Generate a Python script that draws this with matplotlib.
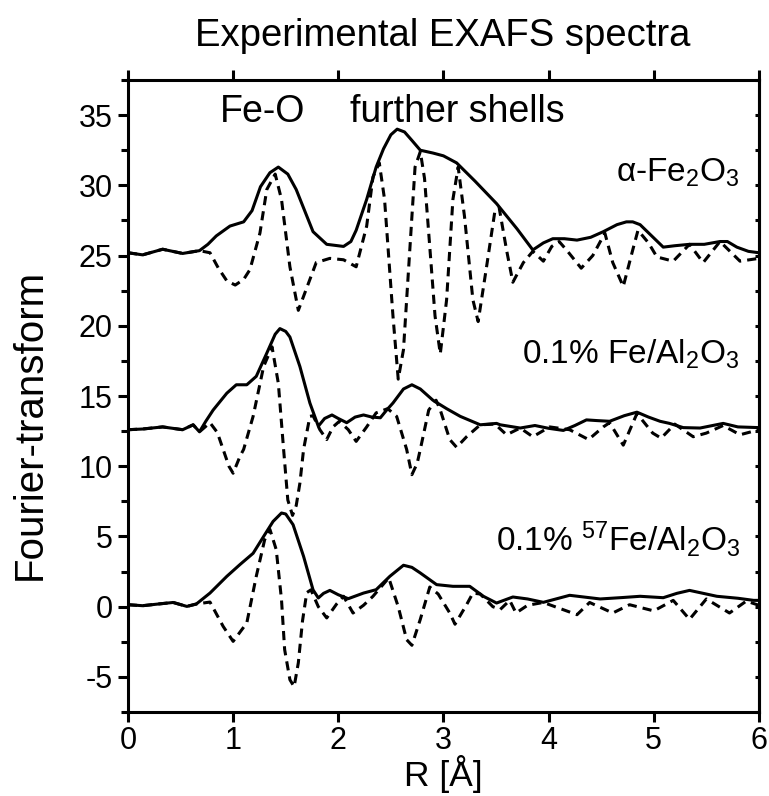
import numpy as np
import matplotlib
matplotlib.use('Agg')
import matplotlib.pyplot as plt
from matplotlib.ticker import MultipleLocator

plt.rcParams['font.family'] = ['Liberation Sans', 'DejaVu Sans']
plt.rcParams['mathtext.fontset'] = 'custom'
plt.rcParams['mathtext.rm'] = 'Liberation Sans'
plt.rcParams['mathtext.it'] = 'Liberation Sans'
plt.rcParams['axes.unicode_minus'] = False

# values (offsets already included: 25, 12.5, 0)

# alpha-Fe2O3 : |FT| and Im(FT)
r_hem_ft = [0.00, 0.14, 0.33, 0.52, 0.68, 0.76, 0.84, 0.97, 1.10, 1.18, 1.26, 1.35,
            1.43, 1.52, 1.60, 1.68, 1.76, 1.89, 2.05, 2.12, 2.17, 2.27, 2.36, 2.43,
            2.50, 2.56, 2.63, 2.70, 2.78, 2.90, 3.00, 3.125, 3.30, 3.505, 3.70, 3.85,
            3.95, 4.04, 4.15, 4.27, 4.40, 4.52, 4.65, 4.74, 4.80, 4.87, 4.98, 5.09,
            5.20, 5.34, 5.48, 5.63, 5.70, 5.79, 5.90, 6.00]
hem_ft = [25.2, 25.05, 25.45, 25.15, 25.35, 25.8, 26.4, 27.1, 27.4, 28.2, 29.9, 30.9,
          31.3, 30.8, 29.7, 28.2, 26.7, 25.8, 25.65, 26.0, 26.8, 29.0, 31.3, 32.6,
          33.6, 34.0, 33.8, 33.2, 32.5, 32.3, 32.1, 31.6, 30.3, 28.7, 26.9, 25.4,
          25.9, 26.2, 26.2, 26.1, 26.3, 26.7, 27.2, 27.4, 27.4, 27.2, 26.4, 25.6,
          25.7, 25.8, 25.8, 26.0, 26.0, 25.6, 25.3, 25.2]
r_hem_im = [0.00, 0.14, 0.33, 0.52, 0.68, 0.78, 0.86, 0.94, 1.02, 1.10, 1.16, 1.255,
            1.32, 1.40, 1.46, 1.54, 1.62, 1.68, 1.79, 1.92, 2.05, 2.17, 2.27, 2.33,
            2.39, 2.44, 2.52, 2.57, 2.62, 2.68, 2.73, 2.78, 2.82, 2.86, 2.92, 2.97,
            3.03, 3.09, 3.14, 3.20, 3.28, 3.33, 3.41, 3.49, 3.53, 3.60, 3.66, 3.76,
            3.85, 3.95, 4.03, 4.10, 4.17, 4.31, 4.42, 4.535, 4.61, 4.71, 4.80, 4.85,
            4.95, 5.03, 5.185, 5.34, 5.47, 5.63, 5.82, 6.00]
hem_im = [25.2, 25.05, 25.45, 25.15, 25.35, 25.2, 24.1, 23.2, 22.9, 23.3, 24.0, 26.6,
          29.7, 30.8, 29.0, 24.2, 21.1, 22.3, 24.5, 24.8, 24.7, 24.2, 27.1, 30.6,
          31.6, 29.0, 20.7, 16.2, 18.3, 25.4, 31.3, 32.4, 30.5, 26.6, 20.7, 18.0,
          21.85, 29.0, 31.3, 27.8, 21.85, 20.3, 24.2, 28.2, 28.4, 25.4, 23.1, 24.5,
          25.3, 24.6, 25.65, 26.0, 25.4, 24.1, 25.0, 26.6, 24.5, 22.8, 25.4, 26.8,
          25.9, 24.9, 24.6, 25.8, 24.5, 26.0, 24.6, 24.8]

# 0.1% Fe/Al2O3
r_fe_ft = [0.00, 0.14, 0.33, 0.52, 0.62, 0.68, 0.74, 0.81, 0.94, 1.03, 1.13, 1.22,
           1.32, 1.40, 1.445, 1.50, 1.54, 1.635, 1.73, 1.81, 1.87, 1.94, 2.00, 2.08,
           2.16, 2.24, 2.32, 2.40, 2.46, 2.52, 2.62, 2.70, 2.78, 2.90, 3.03, 3.16,
           3.35, 3.505, 3.54, 3.73, 3.87, 4.00, 4.14, 4.25, 4.36, 4.46, 4.58, 4.72,
           4.84, 4.95, 5.06, 5.15, 5.28, 5.44, 5.56, 5.66, 5.80, 6.00]
fe_ft = [12.6, 12.65, 12.8, 12.6, 12.95, 12.45, 13.2, 14.0, 15.2, 15.8, 15.8, 16.4,
         18.05, 19.4, 19.8, 19.6, 19.2, 17.1, 14.5, 12.85, 13.4, 13.65, 13.4, 13.1,
         13.5, 13.65, 13.5, 13.45, 14.0, 14.5, 15.5, 15.8, 15.5, 14.7, 14.1, 13.55,
         12.95, 13.05, 12.95, 12.72, 12.9, 12.7, 12.55, 12.9, 13.3, 13.25, 13.2, 13.6,
         13.85, 13.5, 13.2, 13.05, 12.75, 12.72, 12.9, 13.05, 12.8, 12.75]
r_fe_im = [0.00, 0.14, 0.33, 0.52, 0.62, 0.68, 0.78, 0.85, 0.905, 0.96, 1.00, 1.065,
           1.10, 1.19, 1.29, 1.37, 1.43, 1.48, 1.52, 1.565, 1.60, 1.635, 1.67, 1.73,
           1.76, 1.825, 1.89, 1.95, 2.01, 2.095, 2.17, 2.27, 2.36, 2.47, 2.555, 2.65,
           2.70, 2.75, 2.78, 2.86, 2.93, 2.97, 3.06, 3.125, 3.22, 3.35, 3.49, 3.60,
           3.73, 3.85, 4.01, 4.20, 4.38, 4.52, 4.58, 4.71, 4.84, 4.99, 5.07, 5.20,
           5.375, 5.50, 5.66, 5.82, 6.00]
fe_im = [12.6, 12.65, 12.8, 12.6, 12.95, 12.45, 13.1, 12.4, 11.2, 10.0, 9.5, 10.7,
         11.2, 13.55, 17.1, 18.5, 15.9, 11.2, 7.6, 6.5, 7.2, 8.8, 11.2, 13.55,
         13.6, 12.6, 11.9, 12.8, 13.2, 12.6, 11.77, 12.8, 13.8, 14.1, 13.55, 11.2,
         9.4, 10.2, 11.2, 14.0, 14.7, 14.0, 11.9, 11.35, 12.1, 12.95, 13.0, 12.24,
         12.72, 12.1, 12.8, 12.6, 11.9, 12.8, 13.1, 11.5, 13.75, 12.36, 12.0, 13.0,
         12.1, 12.36, 12.9, 12.24, 12.6]

# 0.1% 57Fe/Al2O3
r_fe57_ft = [0.00, 0.14, 0.30, 0.43, 0.56, 0.65, 0.78, 0.94, 1.065, 1.19, 1.29, 1.38,
             1.46, 1.50, 1.57, 1.67, 1.76, 1.81, 1.86, 1.92, 2.00, 2.095, 2.24, 2.36,
             2.49, 2.62, 2.70, 2.78, 2.935, 3.09, 3.25, 3.38, 3.505, 3.66, 3.80, 3.95,
             4.20, 4.49, 4.70, 4.87, 5.09, 5.22, 5.34, 5.47, 5.60, 5.80, 5.95, 6.00]
fe57_ft = [0.14, 0.07, 0.2, 0.3, 0.02, 0.19, 0.97, 2.16, 3.0, 3.8, 5.0, 6.07,
           6.67, 6.6, 5.84, 3.58, 1.2, 0.62, 0.95, 1.16, 0.85, 0.57, 0.97, 1.21,
           2.16, 2.95, 2.8, 2.4, 1.57, 1.45, 1.45, 0.74, 0.26, 0.69, 0.55, 0.31,
           0.81, 0.55, 0.65, 0.74, 0.64, 0.95, 1.16, 0.95, 0.74, 0.6, 0.45, 0.45]
r_fe57_im = [0.00, 0.14, 0.30, 0.43, 0.56, 0.65, 0.78, 0.905, 1.00, 1.13, 1.22, 1.30,
             1.35, 1.41, 1.46, 1.49, 1.54, 1.58, 1.62, 1.66, 1.70, 1.74, 1.81, 1.89,
             1.985, 2.05, 2.14, 2.24, 2.33, 2.48, 2.57, 2.65, 2.70, 2.78, 2.87, 2.95,
             3.06, 3.11, 3.22, 3.28, 3.35, 3.47, 3.54, 3.63, 3.69, 3.80, 3.95, 4.27,
             4.39, 4.61, 4.77, 5.00, 5.185, 5.34, 5.50, 5.72, 5.88, 6.00]
fe57_im = [0.14, 0.07, 0.2, 0.3, 0.02, 0.19, 0.33, -1.4, -2.47, -1.16, 2.16, 4.77,
           5.5, 4.06, 0.5, -3.06, -5.2, -5.7, -4.0, -1.0, 1.0, 1.2, 0.0, -0.8,
           0.2, 0.74, -0.45, 0.1, 0.74, 2.05, 0.0, -2.35, -2.75, -0.9, 1.4, 0.9,
           -0.45, -1.25, 0.14, 0.97, 0.9, 0.0, -0.2, 0.45, -0.45, 0.1, 0.3, -0.57,
           0.3, -0.45, 0.14, -0.3, 0.45, -0.9, 0.55, -0.45, 0.4, 0.1]

lw = 2.2

fig = plt.figure(figsize=(7.69, 7.96), dpi=100)
ax = fig.add_axes([0.1664, 0.1055, 0.8205, 0.794])

for r, y in [(r_hem_im, hem_im), (r_fe_im, fe_im), (r_fe57_im, fe57_im)]:
    ax.plot(r, y, color='black', lw=lw, linestyle=(0, (3, 2)))
for r, y in [(r_hem_ft, hem_ft), (r_fe_ft, fe_ft), (r_fe57_ft, fe57_ft)]:
    ax.plot(r, y, color='black', lw=lw)

ax.set_xlim(0, 6)
ax.set_ylim(-7.5, 37.5)
ax.xaxis.set_major_locator(MultipleLocator(1))
ax.yaxis.set_major_locator(MultipleLocator(5))
ax.yaxis.set_minor_locator(MultipleLocator(2.5))

for s in ax.spines.values():
    s.set_linewidth(lw)

ax.tick_params(axis='both', which='both', width=lw, labelsize=22)
ax.tick_params(axis='x', which='major', direction='out', length=7, top=True, pad=3)
ax.tick_params(axis='y', which='major', direction='out', length=7, pad=4)
ax.tick_params(axis='y', which='minor', direction='out', length=5)
ax.tick_params(axis='y', which='both', right=False)

# short inward ticks on the right-hand spine
ax2 = ax.twinx()
ax2.set_ylim(ax.get_ylim())
ax2.yaxis.set_major_locator(MultipleLocator(2.5))
ax2.tick_params(axis='y', which='major', direction='in', length=3, width=lw,
                labelright=False)
ax2.spines['right'].set_linewidth(lw)
for k in ['left', 'top', 'bottom']:
    ax2.spines[k].set_visible(False)

ax.set_xlabel('R [Å]', fontsize=25.5)
ax.xaxis.set_label_coords(0.5, -0.068)
ax.set_ylabel('Fourier-transform', fontsize=29)
ax.yaxis.set_label_coords(-0.125, 0.455)

fig.text(0.576, 1 - 46/796, 'Experimental EXAFS spectra', fontsize=27.5,
         ha='center', va='baseline')

ax.text(1.28, 34.5, 'Fe-O', fontsize=27, ha='center', va='baseline')
ax.text(3.13, 34.5, 'further shells', fontsize=27, ha='center', va='baseline')

ax.text(5.82, 30.3, 'α-Fe$_2$O$_3$', fontsize=24, ha='right', va='baseline')
ax.text(5.82, 17.3, '0.1% Fe/Al$_2$O$_3$', fontsize=24, ha='right', va='baseline')
ax.text(5.82, 4.0, '0.1% $^{57}$Fe/Al$_2$O$_3$', fontsize=24, ha='right',
        va='baseline')

plt.savefig('out.png', dpi=100)
plt.close()
